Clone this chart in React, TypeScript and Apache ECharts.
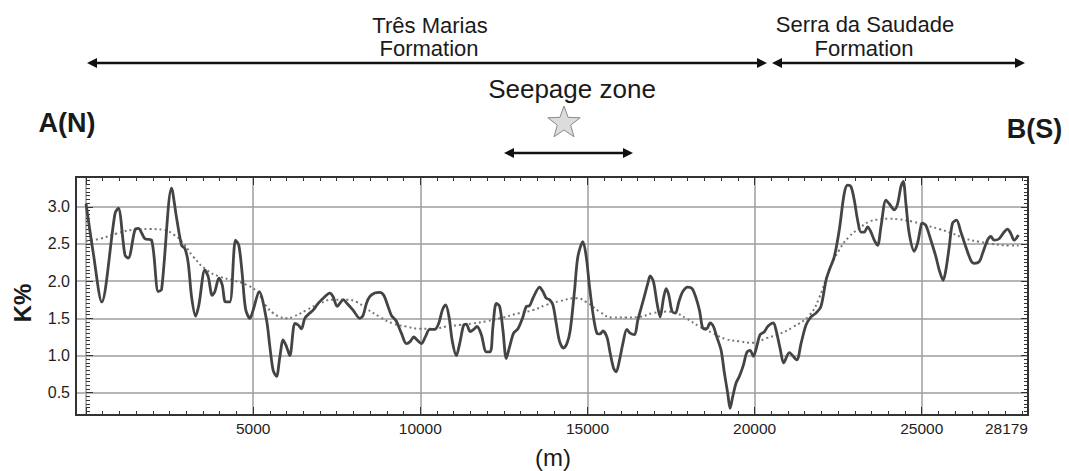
import React, { useEffect, useRef } from "react";
import * as echarts from "echarts";

// ---- data ----
const distance = [
  0, 219, 468, 867, 966, 1165, 1265, 1464, 1564, 1763, 1962, 2161, 2261, 2560, 2709, 2859, 2958, 3058, 3157, 3277,
  3376, 3556, 3655, 3775, 3855, 3974, 4074, 4173, 4303, 4472, 4572, 4671, 4771, 4900, 5000, 5179, 5399, 5499, 5598,
  5698, 5798, 5897, 5997, 6097, 6246, 6346, 6445, 6545, 6694, 6794, 6943, 7143, 7292, 7392, 7511, 7591, 7690, 7810,
  7989, 8189, 8288, 8388, 8487, 8637, 8786, 8906, 9035, 9135, 9284, 9434, 9583, 9703, 9803, 9902, 10032, 10151,
  10281, 10430, 10550, 10659, 10759, 10859, 10958, 11078, 11177, 11297, 11376, 11496, 11596, 11695, 11825, 11974,
  12094, 12173, 12273, 12373, 12472, 12572, 12672, 12791, 12921, 13071, 13170, 13270, 13369, 13569, 13668, 13768,
  13868, 13967, 14067, 14166, 14286, 14386, 14485, 14615, 14714, 14864, 14963, 15063, 15163, 15282, 15382, 15462,
  15581, 15681, 15780, 15860, 15960, 16059, 16179, 16278, 16408, 16508, 16657, 16806, 16876, 16976, 17075, 17175,
  17275, 17354, 17434, 17534, 17633, 17733, 17852, 18002, 18131, 18251, 18350, 18470, 18570, 18669, 18769, 18869,
  18998, 19098, 19197, 19267, 19347, 19446, 19546, 19665, 19765, 19865, 19964, 20064, 20164, 20293, 20393, 20562,
  20642, 20761, 20870, 21040, 21259, 21389, 21538, 21687, 21837, 21986, 22136, 22235, 22385, 22534, 22683, 22783,
  22883, 22982, 23082, 23182, 23281, 23381, 23481, 23580, 23680, 23780, 23929, 24028, 24178, 24278, 24377, 24447,
  24527, 24626, 24776, 24875, 25025, 25124, 25274, 25423, 25523, 25642, 25722, 25822, 25921, 26041, 26170, 26320,
  26469, 26569, 26718, 26818, 26967, 27067, 27167, 27316, 27465, 27565, 27665, 27764, 27894,
];
const kPercent = [
  3.04, 2.37, 1.72, 2.91, 2.98, 2.35, 2.31, 2.69, 2.71, 2.57, 2.55, 1.86, 1.89, 3.25, 2.85, 2.48, 2.44, 2.24, 1.79, 1.53,
  1.68, 2.15, 2.06, 1.81, 1.86, 2.04, 1.95, 1.72, 1.72, 2.55, 2.48, 2.1, 1.63, 1.5, 1.61, 1.86, 1.48, 1.12, 0.8,
  0.72, 0.98, 1.21, 1.12, 1.0, 1.43, 1.41, 1.36, 1.5, 1.57, 1.61, 1.7, 1.79, 1.84, 1.79, 1.66, 1.7, 1.75, 1.7,
  1.61, 1.5, 1.54, 1.7, 1.79, 1.84, 1.85, 1.81, 1.66, 1.54, 1.46, 1.3, 1.16, 1.19, 1.25, 1.21, 1.16, 1.25,
  1.35, 1.35, 1.43, 1.61, 1.68, 1.52, 1.19, 1.0, 1.16, 1.41, 1.42, 1.32, 1.35, 1.39, 1.28, 1.05,
  1.05, 1.39, 1.7, 1.66, 1.34, 0.96, 1.12, 1.3, 1.36, 1.52, 1.66, 1.67, 1.77, 1.92, 1.86, 1.77,
  1.75, 1.68, 1.43, 1.19, 1.1, 1.16, 1.34, 1.88, 2.33, 2.53, 2.33, 1.92, 1.57, 1.3, 1.29, 1.33,
  1.25, 1.03, 0.83, 0.78, 0.94, 1.16, 1.35, 1.3, 1.28, 1.48, 1.72, 1.97, 2.07, 1.99, 1.72, 1.52,
  1.77, 1.9, 1.81, 1.59, 1.57, 1.72, 1.86, 1.92, 1.9, 1.77, 1.61, 1.36, 1.36, 1.44, 1.39, 1.25,
  1.07, 0.76, 0.49, 0.29, 0.45, 0.63, 0.72, 0.87, 1.04, 1.07, 0.99, 1.12, 1.28, 1.32, 1.39, 1.44,
  1.34, 1.1, 0.9, 1.04, 0.94, 1.16, 1.41, 1.52, 1.57, 1.66, 2.01, 2.15, 2.33, 2.69, 3.18, 3.29,
  3.27, 3.09, 2.82, 2.66, 2.66, 2.73, 2.66, 2.55, 2.48, 2.73, 3.09, 3.04, 2.96, 3.04, 3.27, 3.34,
  3.04, 2.64, 2.4, 2.51, 2.78, 2.75, 2.55, 2.33, 2.15, 2.01, 2.15, 2.46, 2.78, 2.82, 2.66, 2.46,
  2.28, 2.24, 2.26, 2.37, 2.55, 2.6, 2.55, 2.57, 2.66, 2.7, 2.64, 2.55, 2.62,
];
const trendDistance = [
  0, 418, 916, 1414, 1912, 2311, 2610, 2908, 3207, 3606, 4004, 4402, 4801, 5100, 5399, 5598, 5798, 5997, 6196, 6595,
  6993, 7392, 7790, 8089, 8388, 8786, 9185, 9583, 9982, 10380, 10779, 11177, 11576, 11974, 12373, 12971, 13369,
  13768, 14166, 14665, 14963, 15362, 15760, 16159, 16557, 16956, 17354, 17653, 17952, 18350, 18749, 19147, 19546,
  19944, 20343, 20741, 21140, 21637, 21936, 22235, 22534, 22833, 23132, 23431, 23730, 24028, 24327, 24726, 25124,
  25523, 25921, 26320, 26718, 27117, 27615, 27894,
];
const kTrend = [
  2.54, 2.57, 2.64, 2.69, 2.7, 2.69, 2.63, 2.51, 2.33, 2.15, 2.06, 2.01, 1.95, 1.86, 1.66, 1.57, 1.52, 1.5, 1.52, 1.61,
  1.7, 1.75, 1.75, 1.72, 1.63, 1.52, 1.43, 1.39, 1.36, 1.36, 1.39, 1.41, 1.43, 1.46, 1.5, 1.57, 1.61,
  1.68, 1.73, 1.77, 1.72, 1.59, 1.51, 1.51, 1.52, 1.57, 1.59, 1.57, 1.5, 1.39, 1.3, 1.22, 1.19,
  1.17, 1.23, 1.29, 1.38, 1.54, 1.78, 2.15, 2.42, 2.6, 2.71, 2.8, 2.83, 2.84, 2.83, 2.8, 2.75,
  2.7, 2.64, 2.57, 2.53, 2.5, 2.48, 2.48,
];
const xTickLabels = [5000, 10000, 15000, 20000, 25000, 28179];
const yTickLabels = [0.5, 1.0, 1.5, 2.0, 2.5, 3.0];

// ---- layout ----
const W = 1069;
const H = 471;
const FL = 76, FR = 1028, FT = 177, FB = 415;
const X_MIN = -300, X_MAX = 28179, Y_MIN = 0.2, Y_MAX = 3.4;
const FONT = "'Liberation Sans', Arial, Helvetica, sans-serif";
const px = (x: number) => FL + ((x - X_MIN) / (X_MAX - X_MIN)) * (FR - FL);
const py = (y: number) => FB - ((y - Y_MIN) / (Y_MAX - Y_MIN)) * (FB - FT);

function arrow(x1: number, x2: number, y: number): any[] {
  const L = 10, hw = 5;
  return [
    { type: "line", shape: { x1: x1 + 4, y1: y, x2: x2 - 4, y2: y }, style: { stroke: "#111", lineWidth: 2.5 } },
    { type: "polygon", shape: { points: [[x1, y], [x1 + L, y - hw], [x1 + L, y + hw]] }, style: { fill: "#111" } },
    { type: "polygon", shape: { points: [[x2, y], [x2 - L, y - hw], [x2 - L, y + hw]] }, style: { fill: "#111" } },
  ];
}

function starPoints(cx: number, cy: number, R: number, r: number) {
  const pts: number[][] = [];
  for (let i = 0; i < 10; i++) {
    const a = -Math.PI / 2 + (i * Math.PI) / 5;
    const rad = i % 2 === 0 ? R : r;
    pts.push([cx + rad * Math.cos(a), cy + rad * Math.sin(a)]);
  }
  return pts;
}

function text(t: string, x: number, y: number, size: number, bold = false, rotation = 0): any {
  return {
    type: "text",
    x,
    y,
    rotation,
    style: {
      text: t,
      fontSize: size,
      fontFamily: FONT,
      fontWeight: bold ? "bold" : "normal",
      fill: "#1a1a1a",
      align: "center",
      verticalAlign: "middle",
    },
  };
}

export default function App() {
  const ref = useRef<HTMLDivElement>(null);
  useEffect(() => {
    if (!ref.current) return;
    const chart = echarts.init(ref.current, null, { renderer: "svg" });
    const tickStyle = { color: "#333", width: 1 };
    const hiddenX = (min: number, max: number, gridIndex: number) => ({ type: "value", gridIndex, min, max, show: false });
    const hiddenY = (gridIndex: number) => ({ type: "value", gridIndex, min: Y_MIN, max: Y_MAX, show: false });

    const option: any = {
      animation: false,
      backgroundColor: "#fff",
      grid: [
        { left: FL, right: W - FR, top: FT, bottom: H - FB, show: true, borderColor: "#333", borderWidth: 2, z: 3 },
        { left: px(0), right: W - px(25000), top: FT, bottom: H - FB },
        { left: px(0), right: W - FR, top: FT, bottom: H - FB },
        { left: px(0), right: W - FR, top: FT, bottom: H - FB },
        { left: FL, right: W - FR, top: py(3.0), bottom: H - py(0.5) },
        { left: FL, right: W - FR, top: FT, bottom: H - FB },
      ],
      xAxis: [
        hiddenX(X_MIN, X_MAX, 0),
        {
          type: "value", gridIndex: 1, position: "bottom", min: 0, max: 25000, interval: 5000,
          axisLine: { show: false }, axisLabel: { show: false },
          axisTick: { show: true, inside: true, length: 8, lineStyle: tickStyle },
          splitLine: { show: true, lineStyle: { color: "#9e9e9e", width: 1.5 } },
        },
        {
          type: "value", gridIndex: 1, position: "top", min: 0, max: 25000, interval: 5000,
          axisLine: { show: false }, axisLabel: { show: false },
          axisTick: { show: true, inside: true, length: 8, lineStyle: tickStyle },
          splitLine: { show: false },
        },
        {
          type: "value", gridIndex: 2, position: "bottom", min: 0, max: X_MAX, interval: 5000,
          axisLine: { show: false }, axisTick: { show: false }, splitLine: { show: false },
          axisLabel: {
            show: true, margin: 5, fontSize: 15.5, fontFamily: FONT, color: "#1e1e1e",
            alignMaxLabel: "right",
            formatter: (v: number) => (xTickLabels.includes(v) ? String(v) : ""),
          },
        },
        {
          type: "value", gridIndex: 3, position: "bottom", min: 0, max: X_MAX, interval: 500,
          axisLine: { show: false }, axisLabel: { show: false }, splitLine: { show: false },
          axisTick: { show: true, inside: true, length: 4, lineStyle: tickStyle },
        },
        {
          type: "value", gridIndex: 3, position: "top", min: 0, max: X_MAX, interval: 500,
          axisLine: { show: false }, axisLabel: { show: false }, splitLine: { show: false },
          axisTick: { show: true, inside: true, length: 4, lineStyle: tickStyle },
        },
        hiddenX(X_MIN, X_MAX, 4),
        hiddenX(X_MIN, X_MAX, 5),
      ],
      yAxis: [
        hiddenY(0),
        hiddenY(1),
        hiddenY(2),
        hiddenY(3),
        {
          type: "value", gridIndex: 4, position: "left", min: 0.5, max: 3.0, interval: 0.5,
          axisLine: { show: false },
          axisTick: { show: true, inside: true, length: 7, lineStyle: tickStyle },
          splitLine: { show: true, lineStyle: { color: "#9e9e9e", width: 1.5 } },
          axisLabel: {
            show: true, margin: 6, fontSize: 16, fontFamily: FONT, color: "#1e1e1e",
            formatter: (v: number) => {
              const hit = yTickLabels.find((t) => Math.abs(t - v) < 1e-6);
              return hit !== undefined ? hit.toFixed(1) : "";
            },
          },
        },
        {
          type: "value", gridIndex: 4, position: "right", min: 0.5, max: 3.0, interval: 0.5,
          axisLine: { show: false }, axisLabel: { show: false }, splitLine: { show: false },
          axisTick: { show: true, inside: true, length: 7, lineStyle: tickStyle },
        },
        {
          type: "value", gridIndex: 5, position: "left", min: Y_MIN, max: Y_MAX, interval: 0.05,
          axisLine: { show: false }, axisLabel: { show: false }, splitLine: { show: false },
          axisTick: { show: true, inside: true, length: 4, lineStyle: tickStyle },
        },
        {
          type: "value", gridIndex: 5, position: "right", min: Y_MIN, max: Y_MAX, interval: 0.05,
          axisLine: { show: false }, axisLabel: { show: false }, splitLine: { show: false },
          axisTick: { show: true, inside: true, length: 4, lineStyle: tickStyle },
        },
      ],
      series: [
        {
          type: "line",
          xAxisIndex: 0,
          yAxisIndex: 0,
          data: trendDistance.map((d, i) => [d, kTrend[i]]),
          showSymbol: false,
          smooth: true,
          lineStyle: { color: "#777", width: 2, type: [2, 3] },
          z: 4,
        },
        {
          type: "line",
          xAxisIndex: 0,
          yAxisIndex: 0,
          data: distance.map((d, i) => [d, kPercent[i]]),
          showSymbol: false,
          smooth: 0.3,
          lineStyle: { color: "#444", width: 2.8 },
          z: 5,
        },
      ],
      graphic: [
        text("Três Marias", 430, 25, 22),
        text("Formation", 429, 48.5, 22),
        text("Serra da Saudade", 865, 24, 22),
        text("Formation", 864, 48.5, 22),
        text("Seepage zone", 572, 89, 26),
        text("A(N)", 67, 122.5, 27, true),
        text("B(S)", 1034.5, 129, 27, true),
        text("K%", 22, 303, 24, true, Math.PI / 2),
        text("(m)", 553, 457, 24),
        ...arrow(87, 767, 63),
        ...arrow(772, 1025, 63),
        ...arrow(504, 633, 153),
        {
          type: "polygon",
          shape: { points: starPoints(564, 123, 17, 7) },
          style: { fill: "#dcdcdc", stroke: "#8a8a8a", lineWidth: 1 },
        },
      ],
    };
    chart.setOption(option);
    return () => chart.dispose();
  }, []);
  return <div ref={ref} style={{ position: "absolute", left: 0, top: 0, width: W, height: H }} />;
}
